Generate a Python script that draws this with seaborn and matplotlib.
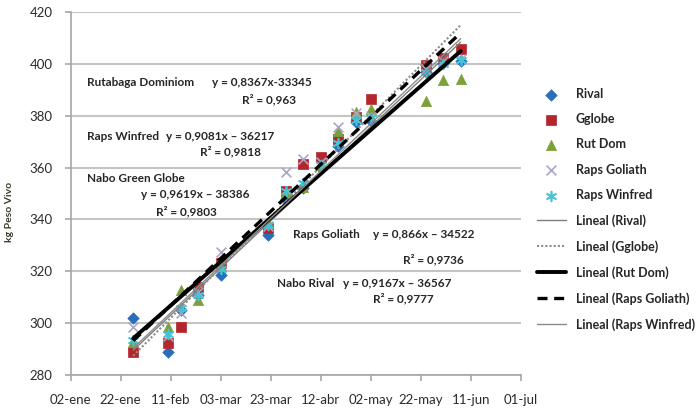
import matplotlib
matplotlib.use("Agg")
import matplotlib.pyplot as plt
import matplotlib.dates as mdates
import pandas as pd
import seaborn as sns

# weighing dates (2010) and live weight of each group, kg
dates = ["2010-01-27", "2010-02-10", "2010-02-15", "2010-02-22", "2010-03-03",
         "2010-03-22", "2010-03-29", "2010-04-05", "2010-04-12", "2010-04-19",
         "2010-04-26", "2010-05-02", "2010-05-24", "2010-05-31", "2010-06-07"]
rival = [301.8, 288.7, 305.0, 311.0, 318.5, 333.8, 348.0, 352.0, 360.0, 368.5,
         377.4, 378.0, 396.7, 400.5, 401.0]
gglobe = [289.0, 292.4, 298.6, 314.0, 323.0, 336.8, 350.9, 361.4, 364.2, 371.0,
          379.4, 386.4, 399.5, 402.4, 405.6]
rut_dom = [292.8, 298.6, 312.7, 308.8, 322.0, 339.0, 350.5, 352.4, 360.8, 374.2,
           381.3, 382.6, 385.5, 393.8, 394.0]
raps_goliath = [298.6, 295.0, 304.0, 312.0, 327.4, 337.5, 358.2, 363.3, 362.0, 375.5,
                381.0, 380.0, 398.0, 401.0, 402.0]
raps_winfred = [293.5, 296.0, 306.0, 310.8, 321.0, 338.0, 351.0, 354.0, 361.0, 369.5,
                378.5, 379.0, 397.0, 400.0, 401.5]
series_names = ["Rival", "Gglobe", "Rut Dom", "Raps Goliath", "Raps Winfred"]

tick_labels = ["02-ene", "22-ene", "11-feb", "03-mar", "23-mar", "12-abr",
               "02-may", "22-may", "11-jun", "01-jul"]

# trendline equations as printed on the chart
names_txt = ["Rutabaga Dominiom", "Raps Winfred", "Nabo Green Globe", "Raps Goliath", "Nabo Rival"]
eq_txt = ["y = 0,8367x-33345", "y = 0,9081x \u2013 36217", "y = 0,9619x \u2013 38386",
          "y = 0,866x \u2013 34522", "y = 0,9167x \u2013 36567"]
r2_txt = ["R\u00b2 = 0,963", "R\u00b2 = 0,9818", "R\u00b2 = 0,9803", "R\u00b2 = 0,9736", "R\u00b2 = 0,9777"]

sns.set_style("whitegrid")
FONT = ["Lato", "DejaVu Sans"]
plt.rcParams["font.family"] = FONT

if __name__ == "__main__":
    x = mdates.date2num(pd.to_datetime(dates))
    values = [rival, gglobe, rut_dom, raps_goliath, raps_winfred]

    fig = plt.figure(figsize=(6.96, 4.12), dpi=100)
    fig.subplots_adjust(left=0.1016, right=0.748, bottom=0.0898, top=0.971)
    ax = fig.add_subplot(111)

    # markers
    marker_kws = [
        dict(marker="D", color="#2a6ebb", s=34, edgecolor="#2a6ebb", linewidth=0.5),
        dict(marker="s", color="#b3262b", s=55, edgecolor="#b3262b", linewidth=0.5),
        dict(marker="^", color="#7da13a", s=55, edgecolor="#7da13a", linewidth=0.5),
        dict(marker="x", color="#a9a6c8", s=50, linewidth=1.2),
        dict(marker=(6, 2, 0), color="#44c4d4", s=50, linewidth=1.2),
    ]
    for name, vals, kw in zip(series_names, values, marker_kws):
        sns.scatterplot(x=x, y=vals, label=name, ax=ax, zorder=2, **kw)

    # linear trendlines
    line_kws = [
        dict(color="#7f7f7f", lw=1.0, ls="-"),
        dict(color="#8c8c8c", lw=1.5, ls=(0, (1, 1))),
        dict(color="black", lw=2.8, ls="-"),
        dict(color="black", lw=2.4, ls=(0, (3, 2))),
        dict(color="#8c8c8c", lw=1.0, ls="-"),
    ]
    for name, vals, kw in zip(series_names, values, line_kws):
        sns.regplot(x=x, y=vals, scatter=False, ci=None, truncate=True,
                    label="Lineal ({})".format(name), ax=ax,
                    color=kw["color"], line_kws=dict(lw=kw["lw"], ls=kw["ls"], zorder=3))

    # axes
    tick_dates = pd.date_range("2010-01-02", "2010-07-01", freq="20D")
    ax.set_xlim(mdates.date2num(tick_dates[0]), mdates.date2num(tick_dates[-1]))
    ax.set_xticks(mdates.date2num(tick_dates))
    ax.set_xticklabels(tick_labels)
    ax.set_ylim(280, 420)
    ax.set_yticks(range(280, 421, 20))
    ax.grid(axis="x", visible=False)
    ax.grid(axis="y", color="#c4c4c4", lw=1.5)
    for side in ["top", "right"]:
        ax.spines[side].set_visible(False)
    for side in ["left", "bottom"]:
        ax.spines[side].set_color("#a6a6a6")
        ax.spines[side].set_linewidth(1.2)
    ax.tick_params(axis="both", length=4, width=1.2, color="#a6a6a6", direction="out",
                   labelsize=9.5, labelcolor="#2b2b2b", bottom=True, left=True)
    ax.tick_params(axis="y", pad=9)
    ax.tick_params(axis="x", pad=10)
    ax.set_xlabel("")
    ax.set_ylabel("kg Peso Vivo", fontsize=7.5, fontweight="bold", color="#3a3a2a")
    ax.yaxis.set_label_coords(-0.125, 0.449)

    # trendline equations
    name_pos = [(0.036, 0.806), (0.036, 0.658), (0.036, 0.542), (0.493, 0.386), (0.458, 0.253)]
    eq_pos = [(0.313, 0.806), (0.212, 0.658), (0.156, 0.496), (0.672, 0.386), (0.606, 0.253)]
    r2_pos = [(0.441, 0.760), (0.355, 0.615), (0.257, 0.449), (0.807, 0.319), (0.739, 0.211)]
    for i in range(len(names_txt)):
        ax.text(*name_pos[i], names_txt[i], transform=ax.transAxes, fontsize=8.5,
                fontweight="bold", va="center", ha="left")
        ax.text(*eq_pos[i], eq_txt[i], transform=ax.transAxes, fontsize=8.5,
                fontweight="bold", va="center", ha="left")
        ax.text(*r2_pos[i], r2_txt[i], transform=ax.transAxes, fontsize=8.5,
                fontweight="bold", va="center", ha="center")

    leg = ax.legend(loc="upper left", bbox_to_anchor=(537 / 696, 1 - 88 / 412),
                    bbox_transform=fig.transFigure, frameon=False, borderpad=0,
                    borderaxespad=0, handlelength=2.3, handletextpad=0.8,
                    labelspacing=1.06, prop=dict(family=FONT, weight="bold", size=9))

    plt.savefig("out.png", dpi=100)
